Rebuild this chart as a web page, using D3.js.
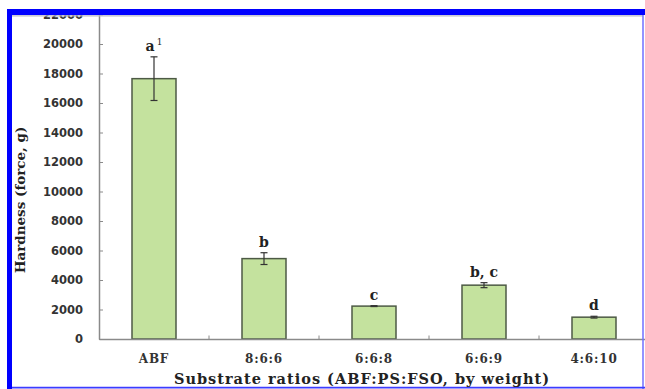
<!DOCTYPE html>
<html>
<head>
<meta charset="utf-8">
<script src="https://cdn.jsdelivr.net/npm/d3@7/dist/d3.min.js"></script>
<style>
  html, body { margin: 0; padding: 0; background: #fff; }
  svg { display: block; }
</style>
</head>
<body>
<svg id="chart" width="645" height="389"></svg>
<script>
// Hardness of each substrate blend (mean and standard deviation, g force)
const categories = ["ABF", "8:6:6", "6:6:8", "6:6:9", "4:6:10"];
const hardness   = [17650, 5450, 2230, 3650, 1480];
const errors     = [1480, 400, 30, 170, 60];
const letters    = ["a", "b", "c", "b, c", "d"];
const supers     = ["1", "", "", "", ""];
const yTicks     = [0, 2000, 4000, 6000, 8000, 10000, 12000, 14000, 16000, 18000, 20000, 22000];

const svg = d3.select("#chart");

const x = d3.scaleBand()
  .domain(categories)
  .range([99, 649])
  .paddingInner(0.6)
  .paddingOuter(0.3);

const y = d3.scaleLinear()
  .domain([0, 22000])
  .range([339, 14.5]);

const axisGrey = "#8a8a8a";

// Y axis: inward ticks, labels on the left
const yAxis = svg.append("g")
  .attr("transform", "translate(99,0)")
  .call(d3.axisLeft(y).tickValues(yTicks).tickFormat(d3.format("d"))
    .tickSizeInner(-4).tickSizeOuter(0).tickPadding(16));
yAxis.select(".domain").attr("stroke", axisGrey).attr("stroke-width", 1.5);
yAxis.selectAll(".tick line").attr("stroke", axisGrey).attr("stroke-width", 1);
yAxis.selectAll(".tick text")
  .attr("font-family", "DejaVu Sans")
  .attr("font-weight", "bold")
  .attr("font-size", "11.5px")
  .attr("fill", "#333");

// Bars
const barFill = "#c4e29e";
svg.append("g").selectAll("rect")
  .data(categories)
  .join("rect")
  .attr("x", d => x(d))
  .attr("y", (d, i) => y(hardness[i]))
  .attr("width", x.bandwidth())
  .attr("height", (d, i) => y(0) - y(hardness[i]))
  .attr("fill", barFill)
  .attr("stroke", "#4d5a45")
  .attr("stroke-width", 1.5);

// Error bars
const eb = svg.append("g").attr("stroke", "#333").attr("stroke-width", 1.2);
categories.forEach((c, i) => {
  const cx = x(c) + x.bandwidth() / 2;
  const top = y(hardness[i] + errors[i]);
  const bot = y(hardness[i] - errors[i]);
  eb.append("line").attr("x1", cx).attr("x2", cx).attr("y1", top).attr("y2", bot);
  eb.append("line").attr("x1", cx - 3.5).attr("x2", cx + 3.5).attr("y1", top).attr("y2", top);
  eb.append("line").attr("x1", cx - 3.5).attr("x2", cx + 3.5).attr("y1", bot).attr("y2", bot);
});

// Significance letters above each bar
const lab = svg.append("g")
  .attr("font-family", "DejaVu Serif")
  .attr("font-weight", "bold")
  .attr("font-size", "14px")
  .attr("fill", "#222")
  .attr("text-anchor", "middle");
categories.forEach((c, i) => {
  const t = lab.append("text")
    .attr("x", x(c) + x.bandwidth() / 2)
    .attr("y", y(hardness[i] + errors[i]) - 6);
  t.append("tspan").text(letters[i]);
  if (supers[i]) {
    t.append("tspan")
      .attr("font-size", "9px")
      .attr("font-weight", "normal")
      .attr("dx", 2)
      .attr("dy", -6)
      .text(supers[i]);
  }
});

// X axis: baseline, boundary ticks, category labels
const xAxis = svg.append("g")
  .attr("transform", "translate(0,339)")
  .call(d3.axisBottom(x).tickSize(0).tickPadding(15));
xAxis.select(".domain").attr("stroke", axisGrey).attr("stroke-width", 1.5);
xAxis.selectAll(".tick text")
  .attr("font-family", "DejaVu Serif")
  .attr("font-weight", "bold")
  .attr("font-size", "12px")
  .attr("letter-spacing", "0.8px")
  .attr("fill", "#333");

const step = x.step();
svg.append("g").selectAll("line")
  .data(categories)
  .join("line")
  .attr("x1", d => x(d) + x.bandwidth() + step * x.paddingInner() / 2)
  .attr("x2", d => x(d) + x.bandwidth() + step * x.paddingInner() / 2)
  .attr("y1", 339)
  .attr("y2", 335.5)
  .attr("stroke", axisGrey)
  .attr("stroke-width", 1);

// Axis titles
svg.append("text")
  .attr("transform", "translate(25,200) rotate(-90)")
  .attr("text-anchor", "middle")
  .attr("font-family", "DejaVu Serif")
  .attr("font-weight", "bold")
  .attr("font-size", "13.5px")
  .attr("fill", "#222")
  .text("Hardness (force, g)");

// Blue frame around the panel
svg.append("line").attr("x1", 12).attr("x2", 643).attr("y1", 15.8).attr("y2", 15.8)
  .attr("stroke", "#b8b8c8").attr("stroke-width", 1.2);
svg.append("rect").attr("x", 7).attr("y", 9).attr("width", 638).attr("height", 6).attr("fill", "#0000ff");
svg.append("rect").attr("x", 7).attr("y", 9).attr("width", 5).attr("height", 380).attr("fill", "#0000ff");
svg.append("line").attr("x1", 643).attr("x2", 643).attr("y1", 15).attr("y2", 389)
  .attr("stroke", "#6f6fff").attr("stroke-width", 1.5);
svg.append("line").attr("x1", 12).attr("x2", 645).attr("y1", 387.6).attr("y2", 387.6)
  .attr("stroke", "#3c3cff").attr("stroke-width", 1.6);

svg.append("text")
  .attr("x", 362)
  .attr("y", 384)
  .attr("text-anchor", "middle")
  .attr("font-family", "DejaVu Serif")
  .attr("font-weight", "bold")
  .attr("font-size", "14.5px")
  .attr("letter-spacing", "1px")
  .attr("fill", "#222")
  .text("Substrate ratios (ABF:PS:FSO, by weight)");
</script>
</body>
</html>
